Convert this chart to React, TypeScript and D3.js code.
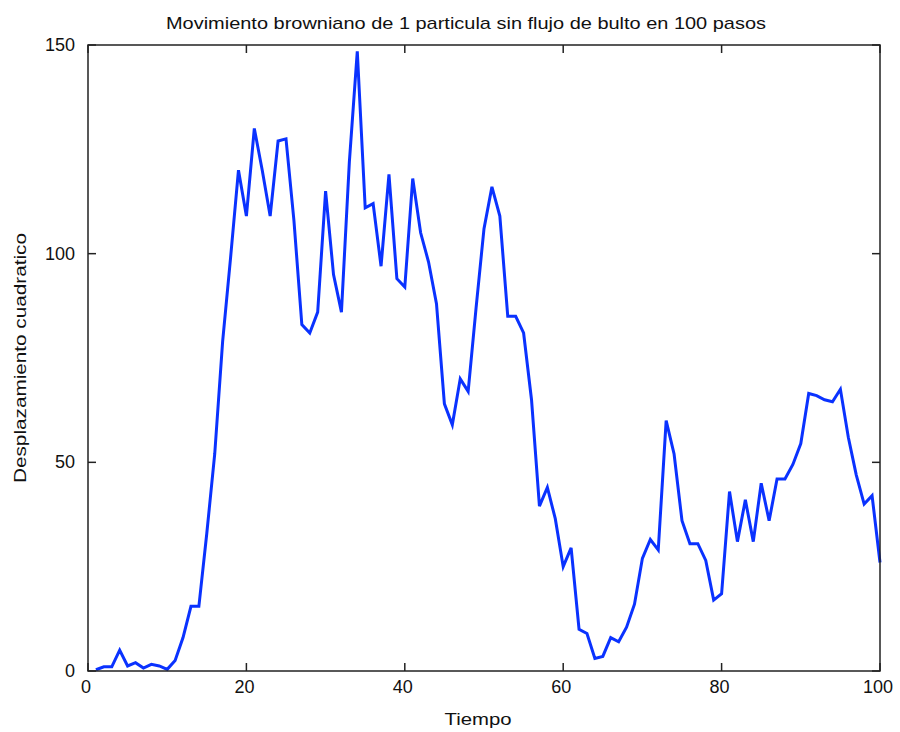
import * as d3 from 'd3';

const steps = d3.range(1, 101);
const displacement = [
  0.3, 1, 1, 5, 1.2, 2, 0.7, 1.6, 1.2, 0.4,
  2.5, 8, 15.5, 15.5, 33, 52, 79, 99, 120, 109,
  130, 120, 109, 127, 127.5, 108, 83, 81, 86, 115,
  95, 86, 122, 148.5, 111, 112, 97, 119, 94, 92,
  118, 105, 98, 88, 64, 59, 70, 67, 87, 106,
  116, 109, 85, 85, 81, 65, 39.5, 44, 36.5, 25,
  29.5, 10, 9, 3, 3.5, 8, 7, 10.5, 16, 27,
  31.5, 29, 60, 52, 36, 30.5, 30.5, 26.5, 17, 18.5,
  43, 31, 41, 31, 45, 36, 46, 46, 49.5, 54.5,
  66.5, 66, 65, 64.5, 67.5, 56, 47, 40, 42, 26,
];
const xTicks = [0, 20, 40, 60, 80, 100];
const yTicks = [0, 50, 100, 150];

const WIDTH = 900;
const HEIGHT = 732;
const margin = { top: 45, right: 20, bottom: 61, left: 88 };
const FONT = '"Liberation Sans", Arial, sans-serif';

export default function App() {
  const x = d3.scaleLinear().domain([0, 100]).range([margin.left, WIDTH - margin.right]);
  const y = d3.scaleLinear().domain([0, 150]).range([HEIGHT - margin.bottom, margin.top]);

  const line = d3
    .line<number>()
    .x((_, i) => x(steps[i]))
    .y((d) => y(d));

  const x0 = x(0);
  const x1 = x(100);
  const y0 = y(0);
  const y1 = y(150);
  const tick = 8;

  return (
    <svg
      width={WIDTH}
      height={HEIGHT}
      style={{ position: 'absolute', left: 0, top: 0, background: '#fff' }}
      fontFamily={FONT}
    >
      <rect x={0} y={0} width={WIDTH} height={HEIGHT} fill="#fff" />

      <path d={line(displacement) ?? ''} fill="none" stroke="#0a32ff" strokeWidth={3} />

      <rect x={x0} y={y1} width={x1 - x0} height={y0 - y1} fill="none" stroke="#222" strokeWidth={1.5} />

      {xTicks.map((t) => (
        <g key={`x${t}`}>
          <line x1={x(t)} x2={x(t)} y1={y0} y2={y0 - tick} stroke="#222" strokeWidth={1.5} />
          <line x1={x(t)} x2={x(t)} y1={y1} y2={y1 + tick} stroke="#222" strokeWidth={1.5} />
          <text x={x(t) - 2} y={y0 + 22} textAnchor="middle" fontSize={18} fill="#111">
            {t}
          </text>
        </g>
      ))}

      {yTicks.map((t) => (
        <g key={`y${t}`}>
          <line x1={x0} x2={x0 + tick} y1={y(t)} y2={y(t)} stroke="#222" strokeWidth={1.5} />
          <line x1={x1} x2={x1 - tick} y1={y(t)} y2={y(t)} stroke="#222" strokeWidth={1.5} />
          <text x={x0 - 13} y={y(t) + 6} textAnchor="end" fontSize={18} fill="#111">
            {t}
          </text>
        </g>
      ))}

      <text x={466} y={29} textAnchor="middle" fontSize={17} fill="#111" textLength={600} lengthAdjust="spacingAndGlyphs">
        Movimiento browniano de 1 particula sin flujo de bulto en 100 pasos
      </text>
      <text x={478} y={725} textAnchor="middle" fontSize={17} fill="#111" textLength={67} lengthAdjust="spacingAndGlyphs">
        Tiempo
      </text>
      <text
        transform={`translate(26, ${(y0 + y1) / 2}) rotate(-90)`}
        textAnchor="middle"
        fontSize={17}
        fill="#111"
        textLength={250}
        lengthAdjust="spacingAndGlyphs"
      >
        Desplazamiento cuadratico
      </text>
    </svg>
  );
}
